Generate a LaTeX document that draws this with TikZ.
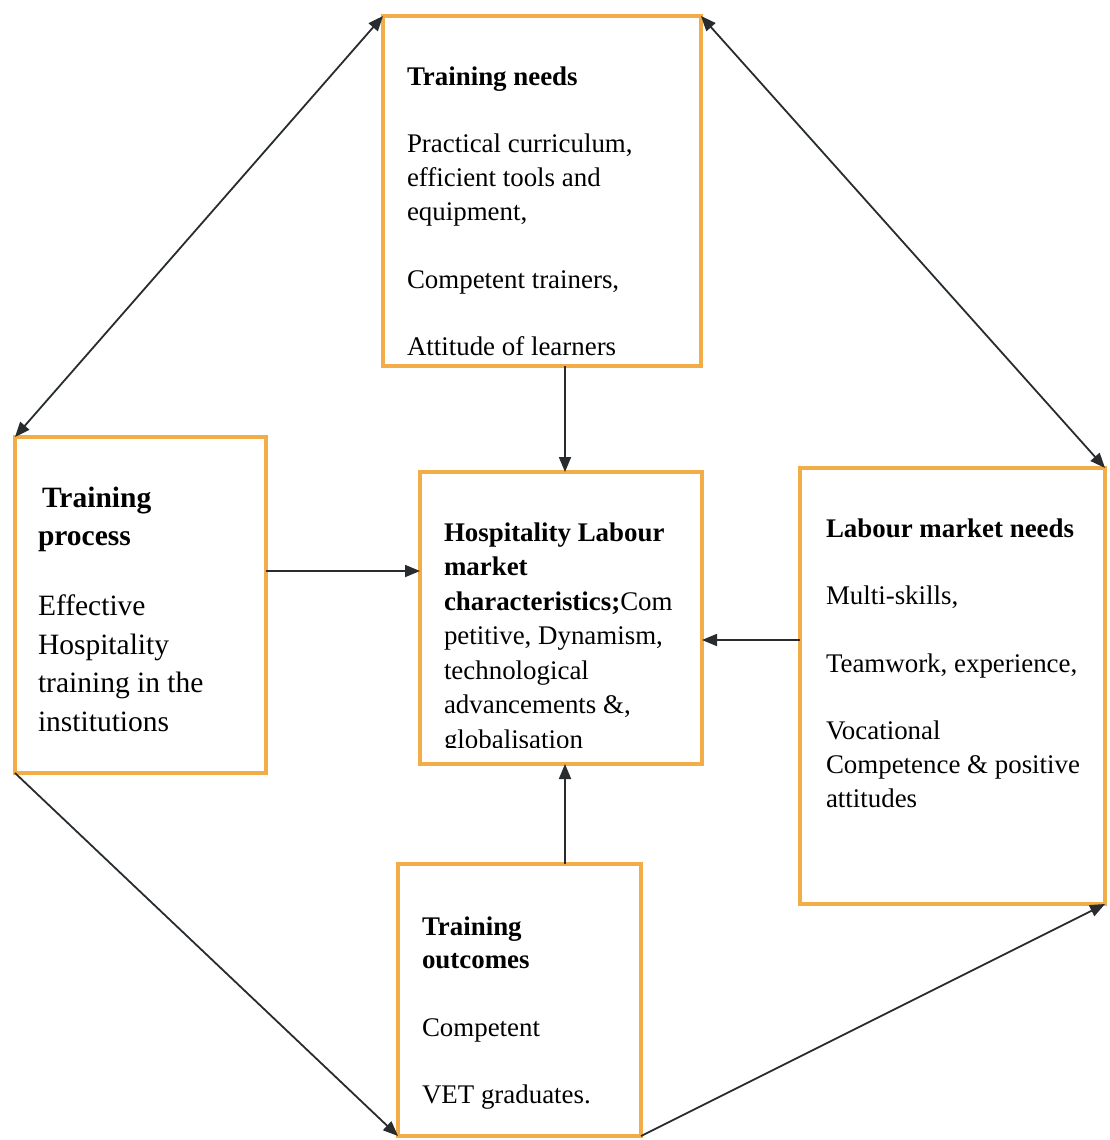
\documentclass[tikz,border=0pt]{standalone}
\usepackage{fontspec}
\setmainfont{Liberation Serif}
\usetikzlibrary{arrows.meta,calc}
\definecolor{boxorange}{RGB}{242,172,72}
\definecolor{lineink}{RGB}{40,44,46}
\begin{document}
\begin{tikzpicture}[x=1pt,y=-1pt,
  box/.style={draw=boxorange,line width=4.5pt,rectangle,inner sep=0pt,outer sep=0pt,anchor=north west},
  txt/.style={anchor=base west,align=left,inner sep=0pt,outer sep=0pt,font=\fontsize{26.9}{34}\selectfont},
  bigtxt/.style={txt,font=\fontsize{29.5}{38.5}\selectfont},
  conn/.style={line width=1.8pt,draw=lineink,-{Triangle[length=15pt,width=12pt]}},
  dconn/.style={conn,{Triangle[length=15pt,width=12pt]}-{Triangle[length=15pt,width=12pt]}}
]
\useasboundingbox (0,0) rectangle (1109,1140);

% boxes
\node[box,minimum width=318pt,minimum height=350pt] (tn) at (383,16) {};
\node[box,minimum width=251pt,minimum height=336pt] (tp) at (15,437) {};
\node[box,minimum width=282pt,minimum height=292pt] (hl) at (420,472) {};
\node[box,minimum width=305pt,minimum height=436pt] (lm) at (800,468) {};
\node[box,minimum width=243pt,minimum height=272pt] (to) at (398,864) {};

% texts (anchored at the baseline of their last line)
\begin{scope}
\clip (tn.north west) rectangle ([yshift=10pt]tn.south east);
\node[txt] (tnT) at (407,355.5) {\textbf{Training needs}\\[33.5pt]Practical curriculum,\\efficient tools and\\equipment,\\[33.5pt]Competent trainers,\\[33.5pt]Attitude of learners};
\end{scope}

\node[bigtxt] (tpT) at (38,731) {\hspace*{4pt}\textbf{Training}\\\textbf{process}\\[31.5pt]Effective\\Hospitality\\training in the\\institutions};

\begin{scope}
\clip (hl.north west) rectangle ([yshift=17pt]hl.south east);
\node[txt,font=\fontsize{26.9}{34.5}\selectfont] (hlT) at (444,748) {\textbf{Hospitality Labour}\\\textbf{market}\\\textbf{characteristics;}Com\\petitive, Dynamism,\\technological\\advancements \&,\\globalisation};
\end{scope}

\node[txt] (lmT) at (826,807.5) {\textbf{Labour market needs}\\[33.5pt]Multi-skills,\\[33.5pt]Teamwork, experience,\\[33.5pt]Vocational\\Competence \& positive\\attitudes};

\node[txt,font=\fontsize{26.9}{33.5}\selectfont] (toT) at (422,1103.5) {\textbf{Training}\\\textbf{outcomes}\\[34pt]Competent\\[34pt]VET graduates.};

% connectors
\draw[dconn] (tp.north west) -- (tn.north west);
\draw[dconn] (tn.north east) -- (lm.north east);
\draw[conn] (tp.south west) -- (to.south west);
\draw[conn] (to.south east) -- (lm.south east);
\draw[conn] ([xshift=23pt]tn.south) -- ([xshift=23pt]tn.south |- hl.north);
\draw[conn] ([yshift=34pt]tp.east) -- ([yshift=34pt]tp.east -| hl.west);
\draw[conn] ([yshift=46pt]lm.west) -- ([yshift=46pt]lm.west -| hl.east);
\draw[conn] ([xshift=4pt]hl.south |- to.north) -- ([xshift=4pt]hl.south);
\end{tikzpicture}
\end{document}
